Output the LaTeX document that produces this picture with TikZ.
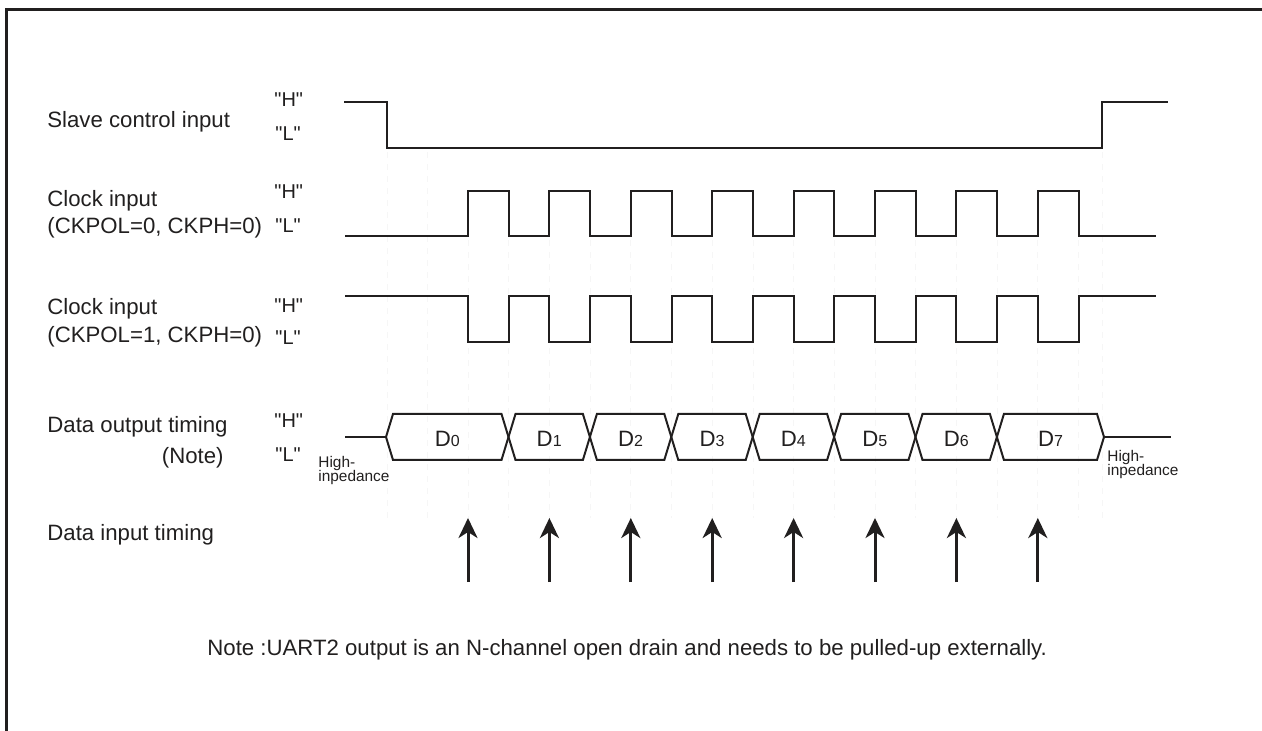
\documentclass[tikz,border=0pt]{standalone}
\usepackage{fontspec}
\setmainfont{Liberation Sans}[Ligatures=TeXOff]
\usetikzlibrary{arrows.meta,calc,positioning}
\definecolor{ink}{rgb}{0.13,0.12,0.12}
\definecolor{guide}{rgb}{0.965,0.965,0.965}

\begin{document}
\begin{tikzpicture}[x=0.5pt,y=-0.5pt,
    lbl/.style={anchor=base west,inner sep=0pt,text=ink,font=\fontsize{11.1}{13}\selectfont},
    lvl/.style={anchor=base west,inner sep=0pt,text=ink,font=\fontsize{10}{12}\selectfont},
    hiz/.style={anchor=base west,inner sep=0pt,text=ink,font=\fontsize{7.7}{9}\selectfont},
    wave/.style={draw=ink,line width=1pt,line join=miter}]
                \useasboundingbox (0,0) rectangle (1262,731);
                \def\tr{468}
                \def\per{81.4}
                \draw[ink,line width=1.5pt] (6,731) -- (6,10) -- (1262,10);
                \foreach \x in {387,427.5,1102}
                    \draw[guide,dashed,line width=0.4pt] (\x,152) -- (\x,520);
                \foreach \k in {0,...,7}{
                    \draw[guide,dashed,line width=0.4pt] ({\tr+\k*\per},240) -- ({\tr+\k*\per},518);
                    \draw[guide,dashed,line width=0.4pt] ({\tr+\k*\per+\per/2},240) -- ({\tr+\k*\per+\per/2},518);
                }
                \node[lbl] (slave) at (47,128) {Slave control input};
                \node[lbl] (clka) at (47,207) {Clock input};
                \node[lbl] (clkapar) at (47,234) {(CKPOL=0, CKPH=0)};
                \node[lbl] (clkb) at (47,315) {Clock input};
                \node[lbl] (clkbpar) at (47,343) {(CKPOL=1, CKPH=0)};
                \node[lbl] (dout) at (47,433) {Data output timing};
                \node[lbl,anchor=base east] (doutnote) at (224,464) {(Note)};
                \node[lbl] (din) at (47,540) {Data input timing};
                \foreach \n/\y in {slaveh/107,clkah/199,clkbh/313,douth/428}
                    \node[lvl] (\n) at (274,\y) {"H"};
                \foreach \n/\y in {slavel/141,clkal/233,clkbl/345,doutl/462}
                    \node[lvl] (\n) at (275,\y) {"L"};
                \node[hiz] (hizl) at (318,467) {High-};
                \node[hiz,below=0pt of hizl.base west,anchor=north west,yshift=-1.5pt] (hizla) {inpedance};
                \node[hiz] (hizr) at (1107,461) {High-};
                \node[hiz,below=0pt of hizr.base west,anchor=north west,yshift=-1.5pt] (hizra) {inpedance};
                \node[lbl] (note) at (207,655) {Note :UART2 output is an N-channel open drain and needs to be pulled-up externally.};
                \draw[wave] (344,102) -- (387,102) -- (387,148) -- (1102,148) -- (1102,102) -- (1168,102);
                \draw[wave] (345,236) \foreach \k in {0,...,7}{ -- ({\tr+\k*\per},236) -- ({\tr+\k*\per},191)
                    -- ({\tr+\k*\per+\per/2},191) -- ({\tr+\k*\per+\per/2},236)} -- (1156,236);
                \draw[wave] (345,296) \foreach \k in {0,...,7}{ -- ({\tr+\k*\per},296) -- ({\tr+\k*\per},342)
                    -- ({\tr+\k*\per+\per/2},342) -- ({\tr+\k*\per+\per/2},296)} -- (1156,296);
                \draw[wave] (345,437) -- (386,437);
                \foreach \a/\b [count=\i from 0] in {386/508.5,508.5/589.9,589.9/671.3,671.3/752.7,
                        752.7/834.1,834.1/915.5,915.5/996.9,996.9/1104}{
                    \draw[wave] (\a,437) -- (\a+7,414) -- (\b-7,414) -- (\b,437) -- (\b-7,460) -- (\a+7,460) -- cycle;
                    \node[lbl,anchor=base] (d\i) at ({(\a+\b)/2},447) {D{\fontsize{8}{9}\selectfont\i}};
                }
                \draw[wave] (1104,437) -- (1171,437);
                \foreach \k in {0,...,7}{
                    \coordinate (arrb\k) at ({\tr+\k*\per},582);
                    \coordinate (arrt\k) at ({\tr+\k*\per},518);
                    \draw[ink,line width=1.5pt,-{Stealth[length=10pt,width=9.5pt,inset=3pt]}] (arrb\k) -- (arrt\k);
                }
\end{tikzpicture}
\end{document}
